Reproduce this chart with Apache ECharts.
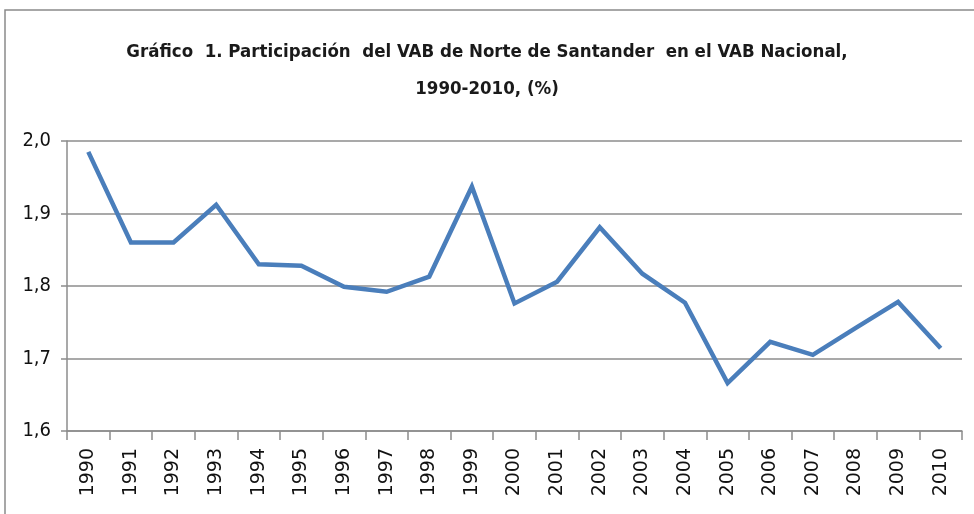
<!DOCTYPE html>
<html>
<head>
<meta charset="utf-8">
<script src="https://cdn.jsdelivr.net/npm/echarts@6/dist/echarts.min.js"></script>
<style>
  html, body { margin: 0; padding: 0; background: #fff; }
  #chart { width: 974px; height: 514px; }
</style>
</head>
<body>
<div id="chart"></div>
<script>
// datos
const years = ['1990', '1991', '1992', '1993', '1994', '1995', '1996', '1997', '1998', '1999', '2000',
  '2001', '2002', '2003', '2004', '2005', '2006', '2007', '2008', '2009', '2010'];
const participacion = [1.985, 1.860, 1.860, 1.912, 1.830, 1.828, 1.799, 1.792, 1.813, 1.937, 1.776,
  1.806, 1.881, 1.817, 1.777, 1.666, 1.723, 1.705, 1.742, 1.778, 1.714];
const yTicks = [1.6, 1.7, 1.8, 1.9, 2.0];

const narrow = '"Liberation Sans Narrow", "DejaVu Sans Condensed", sans-serif';

const chart = echarts.init(document.getElementById('chart'));

const option = {
  backgroundColor: '#fff',
  animation: false,
  title: {
    text: 'Gráfico  1. Participación  del VAB de Norte de Santander  en el VAB Nacional,\n1990-2010, (%)',
    left: 'center',
    top: 29,
    textStyle: {
      fontFamily: narrow,
      fontSize: 18.5,
      fontWeight: 'bold',
      color: '#1a1a1a',
      lineHeight: 37
    }
  },
  graphic: [{
    type: 'rect',
    shape: { x: 5, y: 10, width: 1100, height: 600 },
    style: { fill: 'none', stroke: '#8a8a8a', lineWidth: 1.5 },
    silent: true
  }],
  grid: { left: 67, right: 12, top: 141, bottom: 83 },
  xAxis: {
    type: 'category',
    data: years,
    boundaryGap: true,
    axisLine: { lineStyle: { color: '#8c8c8c', width: 1.5 } },
    axisTick: { show: true, interval: 0, length: 9, lineStyle: { color: '#8c8c8c', width: 1.5 } },
    axisLabel: {
      rotate: 90,
      interval: 0,
      margin: 17,
      fontFamily: 'DejaVu Sans',
      fontSize: 19,
      color: '#111'
    }
  },
  yAxis: {
    type: 'value',
    min: yTicks[0],
    max: yTicks[yTicks.length - 1],
    interval: 0.1,
    axisLine: { show: true, lineStyle: { color: '#8c8c8c', width: 1.5 } },
    axisTick: { show: true, length: 6, lineStyle: { color: '#8c8c8c', width: 1.5 } },
    splitLine: { lineStyle: { color: '#8c8c8c', width: 1.5 } },
    axisLabel: {
      margin: 16,
      fontFamily: narrow,
      fontSize: 20,
      color: '#111',
      formatter: v => v.toFixed(1).replace('.', ',')
    }
  },
  series: [{
    type: 'line',
    data: participacion,
    symbol: 'none',
    lineStyle: { color: '#4a7ebb', width: 4.5, join: 'miter' }
  }]
};

chart.setOption(option);
</script>
</body>
</html>
